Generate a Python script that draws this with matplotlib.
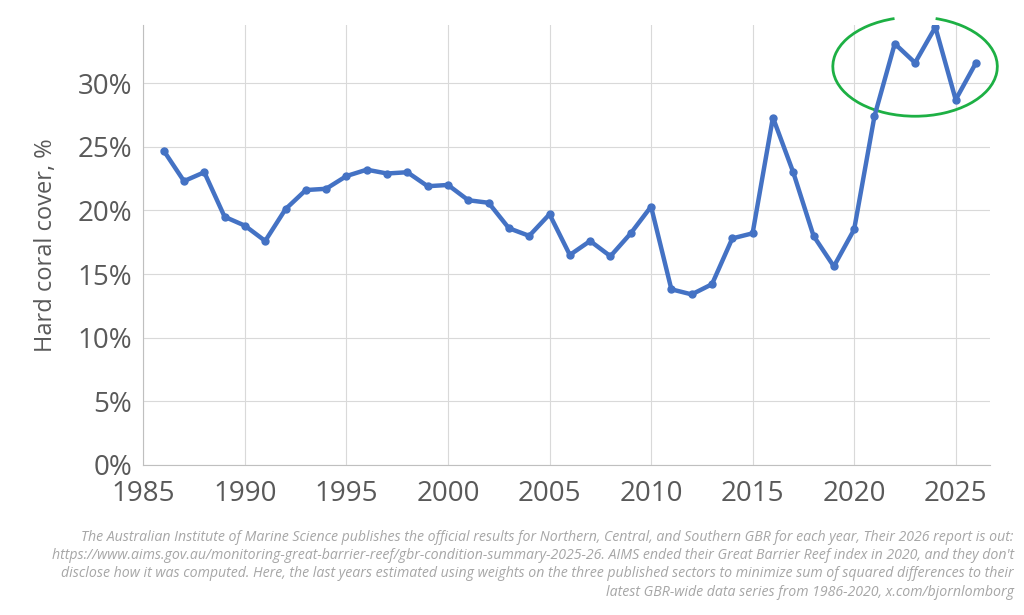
import matplotlib
matplotlib.use('Agg')
import matplotlib.pyplot as plt
from matplotlib.patches import Arc

years = list(range(1986, 2027))
cover = [24.7, 22.3, 23.0, 19.5, 18.8, 17.6, 20.1, 21.6, 21.7, 22.7,
         23.2, 22.9, 23.0, 21.9, 22.0, 20.8, 20.6, 18.6, 18.0, 19.7,
         16.5, 17.6, 16.4, 18.2, 20.3, 13.8, 13.4, 14.2, 17.8, 18.2,
         27.3, 23.0, 18.0, 15.6, 18.5, 27.4, 33.1, 31.6, 34.4, 28.7, 31.6]
xticks = [1985, 1990, 1995, 2000, 2005, 2010, 2015, 2020, 2025]
yticks = [0, 5, 10, 15, 20, 25, 30]

note = ("The Australian Institute of Marine Science publishes the official results for Northern, Central, and Southern GBR for each year, Their 2026 report is out:\n"
        "https://www.aims.gov.au/monitoring-great-barrier-reef/gbr-condition-summary-2025-26. AIMS ended their Great Barrier Reef index in 2020, and they don't\n"
        "disclose how it was computed. Here, the last years estimated using weights on the three published sectors to minimize sum of squared differences to their\n"
        "latest GBR-wide data series from 1986-2020, x.com/bjornlomborg")

plt.rcParams['font.family'] = ['Open Sans', 'DejaVu Sans']
fig = plt.figure(figsize=(10.24, 6.15), dpi=100)
ax = fig.add_axes([0.14, 0.244, 0.827, 0.716])

ax.plot(years, cover, color='#4472C4', lw=3.2, marker='o', ms=5, zorder=3)
ax.set_xlim(1985, 2026.7)
ax.set_ylim(0, 34.6)
ax.set_xticks(xticks)
ax.set_yticks(yticks)
ax.set_yticklabels([f'{v}%' for v in yticks])
ax.tick_params(labelsize=20, colors='#595959', length=0, pad=8)
ax.tick_params(axis='x', pad=11)
ax.grid(color='#d9d9d9', lw=0.8)
for s in ['top', 'right']:
    ax.spines[s].set_visible(False)
ax.spines['left'].set_color('#bfbfbf')
ax.spines['bottom'].set_color('#bfbfbf')
ax.set_ylabel('Hard coral cover, %', fontsize=17, color='#595959', labelpad=14)
ax.set_axisbelow(True)

# hand-drawn style circle around the recent years
arc = Arc((2023.0, 31.3), 8.1, 7.8, theta1=105, theta2=435, color='#1DB044',
          lw=2, clip_on=False)
ax.add_patch(arc)

fig.text(0.99, 0.025, note, ha='right', va='bottom', fontsize=10.2,
         style='italic', color='#a6a6a6', linespacing=1.3)

fig.savefig('out.png')
